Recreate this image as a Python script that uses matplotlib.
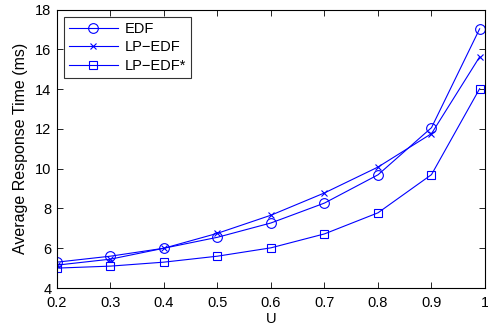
import matplotlib
matplotlib.use("Agg")
import matplotlib.pyplot as plt

plt.rcParams['font.family'] = ['Liberation Sans', 'DejaVu Sans']

U = [0.2, 0.3, 0.4, 0.5, 0.6, 0.7, 0.8, 0.9, 0.99]
edf = [5.3, 5.6, 6.0, 6.55, 7.27, 8.27, 9.69, 12.06, 17.03]
lp_edf = [5.15, 5.45, 6.0, 6.75, 7.66, 8.78, 10.08, 11.76, 15.62]
lp_edf_star = [5.0, 5.1, 5.3, 5.6, 6.02, 6.72, 7.78, 9.7, 14.02]

xticks = [0.2, 0.3, 0.4, 0.5, 0.6, 0.7, 0.8, 0.9, 1]
xticklabels = ['0.2', '0.3', '0.4', '0.5', '0.6', '0.7', '0.8', '0.9', '1']
yticks = [4, 6, 8, 10, 12, 14, 16, 18]

fig = plt.figure(figsize=(4.89, 3.29), dpi=100)
ax = fig.add_axes([57/489, 1-288/329, (485-57)/489, (288-9.5)/329])

blue = (0, 0, 1)
kw = dict(color=blue, lw=0.8, markerfacecolor='none', markeredgewidth=0.8)
ax.plot(U, edf, marker='o', markersize=7, label='EDF', **kw)
ax.plot(U, lp_edf, marker='x', markersize=5, label='LP\u2212EDF', **kw)
ax.plot(U, lp_edf_star, marker='s', markersize=6, label='LP\u2212EDF*', **kw)

ax.set_xlim(0.2, 1)
ax.set_ylim(4, 18)
ax.set_xticks(xticks)
ax.set_xticklabels(xticklabels)
ax.set_yticks(yticks)
fs = 10.5
ax.tick_params(direction='in', top=True, right=True, labelsize=fs, length=4, width=0.6)
ax.tick_params(axis='x', pad=6)
ax.tick_params(axis='y', pad=4)
for s in ax.spines.values():
    s.set_linewidth(0.8)
ax.set_xlabel('U', fontsize=fs, labelpad=1)
ax.set_ylabel('Average Response Time (ms)', fontsize=11.5, labelpad=5)

leg = ax.legend(loc='upper left', fontsize=fs, frameon=True, fancybox=False,
                edgecolor='black', handlelength=3.3, borderaxespad=0.5,
                labelspacing=0.3, handletextpad=0.5, borderpad=0.35)
leg.get_frame().set_linewidth(0.8)

fig.savefig('out.png', dpi=100)
